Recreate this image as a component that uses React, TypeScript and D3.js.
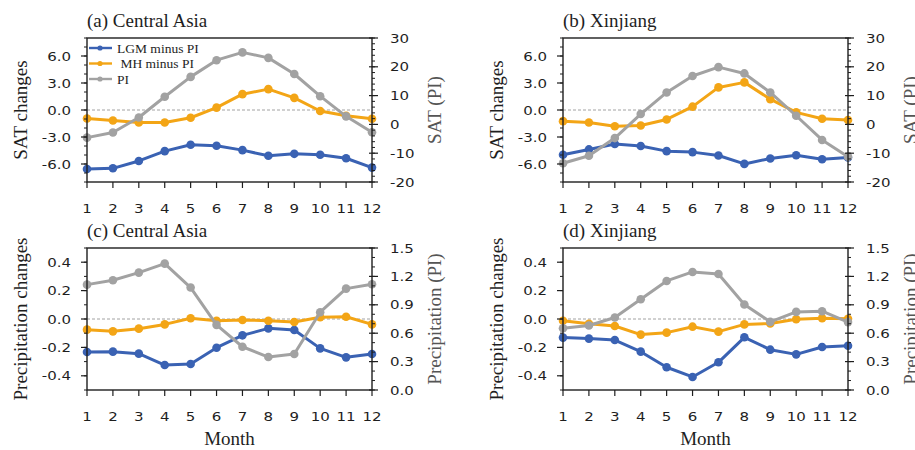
import React from "react";
import * as d3 from "d3";

const months = [1, 2, 3, 4, 5, 6, 7, 8, 9, 10, 11, 12];

// (a) Central Asia SAT
const satCA_LGM = [-6.55, -6.48, -5.66, -4.57, -3.86, -3.97, -4.46, -5.09, -4.87, -4.98, -5.36, -6.4];
const satCA_MH = [-0.94, -1.16, -1.39, -1.39, -0.86, 0.26, 1.76, 2.32, 1.35, -0.11, -0.64, -0.97];
const satCA_PI = [-4.6, -2.8, 2.4, 9.6, 16.5, 22.3, 25.0, 23.1, 17.5, 9.8, 2.8, -2.7];

// (b) Xinjiang SAT
const satXJ_LGM = [-4.98, -4.38, -3.78, -4.0, -4.57, -4.68, -5.06, -5.99, -5.39, -5.02, -5.47, -5.28];
const satXJ_MH = [-1.24, -1.39, -1.8, -1.72, -1.05, 0.37, 2.51, 3.07, 1.2, -0.26, -0.97, -1.12];
const satXJ_PI = [-13.5, -10.9, -4.75, 3.6, 11.1, 16.8, 19.9, 17.7, 11.1, 3.0, -5.4, -11.2];

// (c) Central Asia precipitation
const preCA_LGM = [-0.232, -0.23, -0.244, -0.324, -0.317, -0.202, -0.115, -0.066, -0.077, -0.207, -0.27, -0.246];
const preCA_MH = [-0.075, -0.087, -0.068, -0.038, 0.005, -0.012, -0.007, -0.012, -0.021, 0.012, 0.016, -0.038];
const preCA_PI = [1.113, 1.159, 1.24, 1.335, 1.082, 0.688, 0.457, 0.348, 0.38, 0.822, 1.071, 1.117];

// (d) Xinjiang precipitation
const preXJ_LGM = [-0.131, -0.138, -0.148, -0.23, -0.34, -0.408, -0.305, -0.129, -0.216, -0.249, -0.197, -0.188];
const preXJ_MH = [-0.012, -0.033, -0.049, -0.11, -0.096, -0.054, -0.089, -0.038, -0.031, -0.002, 0.005, 0.002];
const preXJ_PI = [0.653, 0.681, 0.766, 0.959, 1.152, 1.247, 1.226, 0.903, 0.72, 0.825, 0.832, 0.717];

const seriesNames = ["LGM minus PI", " MH minus PI", "PI"];
const satLeftTicks = [-6, -3, 0, 3, 6];
const satRightTicks = [-20, -10, 0, 10, 20, 30];
const preLeftTicks = [-0.4, -0.2, 0, 0.2, 0.4];
const preRightTicks = [0, 0.3, 0.6, 0.9, 1.2, 1.5];

const BLUE = "#3a62b3";
const ORANGE = "#f3a516";
const GRAY = "#a2a2a2";
const INK = "#1e1e1e";
const SERIF = "'Liberation Serif', 'Times New Roman', serif";
const SANS = "'DejaVu Sans', 'Liberation Sans', sans-serif";
const TICK_FS = 12.5;
const STRETCH = 1.2;

type PanelProps = {
  left: number;
  top: number;
  width: number;
  height: number;
  title: string;
  leftDomain: [number, number];
  rightDomain: [number, number];
  leftTicks: number[];
  rightTicks: number[];
  leftMinorStep: number;
  rightMinorStep: number;
  leftFmt: (v: number) => string;
  rightFmt: (v: number) => string;
  leftLabel: string;
  rightLabel: string;
  lgm: number[];
  mh: number[];
  pi: number[];
  legend?: boolean;
  month?: boolean;
};

function TickText(props: { x: number; y: number; anchor: string; children: React.ReactNode; middle?: boolean }) {
  return (
    <text
      transform={`translate(${props.x},${props.y}) scale(${STRETCH},1)`}
      dy={props.middle ? "0.36em" : 0}
      textAnchor={props.anchor}
      fontFamily={SANS}
      fontSize={TICK_FS}
      fill={INK}
    >
      {props.children}
    </text>
  );
}

function Panel(p: PanelProps) {
  const x = d3.scaleLinear().domain([1, 12]).range([p.left, p.left + p.width]);
  const yL = d3.scaleLinear().domain(p.leftDomain).range([p.top + p.height, p.top]);
  const yR = d3.scaleLinear().domain(p.rightDomain).range([p.top + p.height, p.top]);
  const right = p.left + p.width;
  const bottom = p.top + p.height;

  const lineL = d3.line<number>().x((_, i) => x(months[i])).y((d) => yL(d));
  const lineR = d3.line<number>().x((_, i) => x(months[i])).y((d) => yR(d));

  const minorL = d3.range(p.leftDomain[0], p.leftDomain[1] + 1e-9, p.leftMinorStep);
  const minorR = d3.range(p.rightDomain[0], p.rightDomain[1] + 1e-9, p.rightMinorStep);

  const series = [
    { data: p.lgm, color: BLUE, line: lineL, y: yL },
    { data: p.mh, color: ORANGE, line: lineL, y: yL },
    { data: p.pi, color: GRAY, line: lineR, y: yR },
  ];

  const cy = p.top + p.height / 2;

  return (
    <g>
      <text x={p.left} y={p.top - 11} fontFamily={SERIF} fontSize={19} fill={INK}>
        {p.title}
      </text>
      {/* zero line */}
      <line x1={p.left} x2={right} y1={yL(0)} y2={yL(0)} stroke="#8a8a8a" strokeWidth={0.8} strokeDasharray="3,2" />
      {series.map((s, k) => (
        <g key={k}>
          <path d={s.line(s.data) || ""} fill="none" stroke={s.color} strokeWidth={3} strokeLinejoin="round" />
          {s.data.map((v, i) => (
            <circle key={i} cx={x(months[i])} cy={s.y(v)} r={4.3} fill={s.color} />
          ))}
        </g>
      ))}
      {/* frame */}
      <rect x={p.left} y={p.top} width={p.width} height={p.height} fill="none" stroke={INK} strokeWidth={1.4} />
      {/* left ticks */}
      {minorL.map((v, i) => (
        <line key={"ml" + i} x1={p.left - 3} x2={p.left} y1={yL(v)} y2={yL(v)} stroke={INK} strokeWidth={1} />
      ))}
      {p.leftTicks.map((v, i) => (
        <g key={"tl" + i}>
          <line x1={p.left - 6} x2={p.left} y1={yL(v)} y2={yL(v)} stroke={INK} strokeWidth={1.2} />
          <TickText x={p.left - 16} y={yL(v)} anchor="end" middle>
            {p.leftFmt(v)}
          </TickText>
        </g>
      ))}
      {/* right ticks */}
      {minorR.map((v, i) => (
        <line key={"mr" + i} x1={right} x2={right + 3} y1={yR(v)} y2={yR(v)} stroke={INK} strokeWidth={1} />
      ))}
      {p.rightTicks.map((v, i) => (
        <g key={"tr" + i}>
          <line x1={right - 3} x2={right + 6} y1={yR(v)} y2={yR(v)} stroke={INK} strokeWidth={1.2} />
          <TickText x={right + 18} y={yR(v)} anchor="start" middle>
            {p.rightFmt(v)}
          </TickText>
        </g>
      ))}
      {/* bottom ticks */}
      {months.map((m) => (
        <g key={"tb" + m}>
          <line x1={x(m)} x2={x(m)} y1={bottom} y2={bottom + 6} stroke={INK} strokeWidth={1.2} />
          <TickText x={x(m)} y={bottom + 31} anchor="middle">
            {m}
          </TickText>
        </g>
      ))}
      {/* axis titles */}
      <text
        transform={`translate(${p.left - 60},${cy}) rotate(-90)`}
        textAnchor="middle"
        fontFamily={SERIF}
        fontSize={19}
        fill={INK}
      >
        {p.leftLabel}
      </text>
      <text
        transform={`translate(${right + 69},${cy}) rotate(-90)`}
        textAnchor="middle"
        fontFamily={SERIF}
        fontSize={19}
        fill="#555"
      >
        {p.rightLabel}
      </text>
      {p.month && (
        <text x={(p.left + right) / 2} y={bottom + 55} textAnchor="middle" fontFamily={SERIF} fontSize={19} fill={INK}>
          Month
        </text>
      )}
      {p.legend &&
        series.map((s, k) => {
          const ly = p.top + 10 + k * 15.5;
          return (
            <g key={"lg" + k}>
              <line x1={p.left + 2} x2={p.left + 25} y1={ly} y2={ly} stroke={s.color} strokeWidth={2.4} />
              <circle cx={p.left + 13} cy={ly} r={2.6} fill={s.color} />
              <text x={p.left + 30} y={ly} dy="0.35em" fontFamily={SERIF} fontSize={13.5} fill={INK} style={{ whiteSpace: "pre" }}>
                {seriesNames[k]}
              </text>
            </g>
          );
        })}
    </g>
  );
}

export default function App() {
  const f1 = (v: number) => v.toFixed(1);
  const f0 = (v: number) => String(v);
  const W = 285;
  const Ht = 144;
  const Hb = 142;
  return (
    <svg width={915} height={450} style={{ position: "absolute", left: 0, top: 0, background: "#fff" }}>
      <rect x={0} y={0} width={915} height={450} fill="#fff" />
      <Panel
        left={87} top={38} width={W} height={Ht} title="(a) Central Asia"
        leftDomain={[-8, 8]} rightDomain={[-20, 30]} leftTicks={satLeftTicks} rightTicks={satRightTicks}
        leftMinorStep={1} rightMinorStep={2} leftFmt={f1} rightFmt={f0}
        leftLabel="SAT changes" rightLabel="SAT (PI)" lgm={satCA_LGM} mh={satCA_MH} pi={satCA_PI} legend
      />
      <Panel
        left={563} top={38} width={W} height={Ht} title="(b) Xinjiang"
        leftDomain={[-8, 8]} rightDomain={[-20, 30]} leftTicks={satLeftTicks} rightTicks={satRightTicks}
        leftMinorStep={1} rightMinorStep={2} leftFmt={f1} rightFmt={f0}
        leftLabel="SAT changes" rightLabel="SAT (PI)" lgm={satXJ_LGM} mh={satXJ_MH} pi={satXJ_PI}
      />
      <Panel
        left={87} top={248} width={W} height={Hb} title="(c) Central Asia"
        leftDomain={[-0.5, 0.5]} rightDomain={[0, 1.5]} leftTicks={preLeftTicks} rightTicks={preRightTicks}
        leftMinorStep={0.1} rightMinorStep={0.1} leftFmt={f1} rightFmt={f1}
        leftLabel="Precipitation changes" rightLabel="Precipitation (PI)" lgm={preCA_LGM} mh={preCA_MH} pi={preCA_PI} month
      />
      <Panel
        left={563} top={248} width={W} height={Hb} title="(d) Xinjiang"
        leftDomain={[-0.5, 0.5]} rightDomain={[0, 1.5]} leftTicks={preLeftTicks} rightTicks={preRightTicks}
        leftMinorStep={0.1} rightMinorStep={0.1} leftFmt={f1} rightFmt={f1}
        leftLabel="Precipitation changes" rightLabel="Precipitation (PI)" lgm={preXJ_LGM} mh={preXJ_MH} pi={preXJ_PI} month
      />
    </svg>
  );
}
